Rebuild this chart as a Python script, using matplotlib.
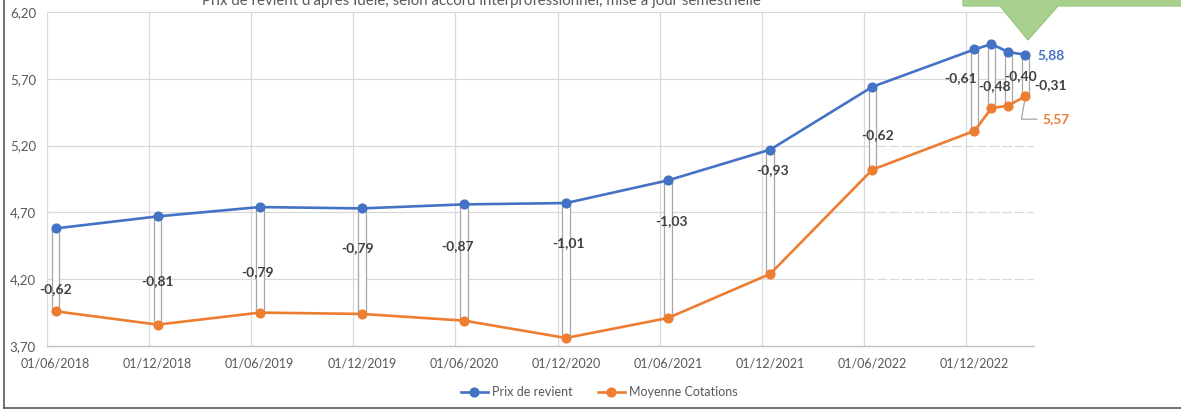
import matplotlib.pyplot as plt
from matplotlib.lines import Line2D
from matplotlib.patches import Polygon

plt.rcParams['font.family'] = ['Lato', 'DejaVu Sans']

# data
dates = ['01/06/2018', '01/12/2018', '01/06/2019', '01/12/2019', '01/06/2020',
         '01/12/2020', '01/06/2021', '01/12/2021', '01/06/2022', '01/12/2022',
         '01/01/2023', '01/02/2023', '01/03/2023']
prix_revient = [4.58, 4.67, 4.74, 4.73, 4.76, 4.77, 4.94, 5.17, 5.64, 5.92, 5.96, 5.90, 5.88]
moyenne_cot = [3.96, 3.86, 3.95, 3.94, 3.89, 3.76, 3.91, 4.24, 5.02, 5.31, 5.48, 5.50, 5.57]
tick_dates = ['01/06/2018', '01/12/2018', '01/06/2019', '01/12/2019', '01/06/2020',
              '01/12/2020', '01/06/2021', '01/12/2021', '01/06/2022', '01/12/2022']
yticks = [3.70, 4.20, 4.70, 5.20, 5.70, 6.20]
title = "Prix de revient d'après Idele, selon accord interprofessionnel, mise à jour semestrielle"

# label offsets (pixels) from point x / bar middle
lab_dx = [0, 0, -2, -4, -6, 2, 3, 2, 5, -14, 3, 12, 25]
lab_dy = [-19, -11, -12, 13, 16, 27, 28, 42, -7, 12, -10, 3, -10]

BLUE = '#4472C4'
ORANGE = '#ED7D31'
GRID = '#D9D9D9'
TXT = '#595959'


def month_idx(d):
    dd, mm, yy = d.split('/')
    return (int(yy) - 2018) * 12 + (int(mm) - 6)


x = [month_idx(d) + 0.5 for d in dates]
ecart = [c - p for p, c in zip(prix_revient, moyenne_cot)]

W, H = 1181, 412
fig = plt.figure(figsize=(W / 100, H / 100), dpi=100)
ax = fig.add_axes([47 / W, 1 - 346 / H, 987 / W, 334 / H])
ax.set_xlim(0, 58)
ax.set_ylim(3.70, 6.20)

# grid
for m in range(0, 55, 6):
    ax.axvline(m, color=GRID, lw=0.9, zorder=0)
for yv in yticks[1:]:
    ax.plot([0, 48], [yv, yv], color=GRID, lw=0.9, zorder=0)
    if yv < 5.5:
        ax.plot([48, 58], [yv, yv], color=GRID, lw=0.9, zorder=0, dashes=(8, 2))
    else:
        ax.plot([48, 58], [yv, yv], color=GRID, lw=0.9, zorder=0)

# up/down bars
ax.bar(x, [p - c for p, c in zip(prix_revient, moyenne_cot)], bottom=moyenne_cot,
       width=0.45, facecolor='white', edgecolor='#A6A6A6', lw=0.9, zorder=2)

ax.plot(x, prix_revient, color=BLUE, lw=1.9, marker='o', ms=6.3, zorder=4,
        label='Prix de revient')
ax.plot(x, moyenne_cot, color=ORANGE, lw=1.9, marker='o', ms=6.3, zorder=4,
        label='Moyenne Cotations')

# difference labels
for xi, p, c, e, dx, dy in zip(x, prix_revient, moyenne_cot, ecart, lab_dx, lab_dy):
    ax.annotate(f'{e:.2f}'.replace('.', ','), xy=(xi, (p + c) / 2),
                xytext=(dx, dy), textcoords='offset pixels', ha='center', va='center',
                fontsize=10, fontweight='bold', color='#404040', zorder=6)

# last value labels
ax.annotate(f'{prix_revient[-1]:.2f}'.replace('.', ','), xy=(x[-1], prix_revient[-1]),
            xytext=(12, 0), textcoords='offset pixels', ha='left', va='center',
            fontsize=10, fontweight='bold', color=BLUE)
ax.annotate(f'{moyenne_cot[-1]:.2f}'.replace('.', ','), xy=(x[-1], moyenne_cot[-1]),
            xytext=(17, -23), textcoords='offset pixels', ha='left', va='center',
            fontsize=10, fontweight='bold', color=ORANGE,
            arrowprops=dict(arrowstyle='-', color='#A6A6A6', lw=0.9,
                            connectionstyle='angle,angleA=0,angleB=80',
                            relpos=(0, 0.5), shrinkA=2, shrinkB=4))

ax.set_yticks(yticks)
ax.set_yticklabels([f'{v:.2f}'.replace('.', ',') for v in yticks])
ax.set_xticks([month_idx(d) + 0.5 for d in tick_dates])
ax.set_xticklabels(tick_dates)
ax.tick_params(axis='both', length=0, labelsize=9, labelcolor=TXT)
ax.tick_params(axis='y', pad=8, labelsize=9.5)
ax.tick_params(axis='x', pad=8)
for s in ['top', 'right', 'left']:
    ax.spines[s].set_visible(False)
ax.spines['bottom'].set_color('#BFBFBF')
ax.spines['bottom'].set_linewidth(1.0)

fig.legend(loc='center', bbox_to_anchor=(599 / W, 1 - 392 / H), ncol=2, frameon=False,
           fontsize=9, labelcolor=TXT, handlelength=2.2, handletextpad=0.3,
           columnspacing=2.0)

fig.text(481 / W, 1 - 1 / H, title, ha='center', va='center', fontsize=10.8, color=TXT)

# green callout shape (top right, cut off)
pts = [(963, -10), (963, 6), (1000, 6), (1028, 40), (1058, 6), (1195, 6), (1195, -10)]
fig.add_artist(Polygon([(px / W, 1 - py / H) for px, py in pts], closed=True,
                       transform=fig.transFigure, facecolor='#A9D18E',
                       edgecolor='#93C47D', lw=0.8))

# chart border
fig.add_artist(Line2D([3.5 / W, 3.5 / W], [1, 1 - 407.5 / H], color='#595959', lw=1.2,
                      transform=fig.transFigure))
fig.add_artist(Line2D([3.5 / W, 1], [1 - 407.5 / H, 1 - 407.5 / H], color='#595959',
                      lw=1.2, transform=fig.transFigure))

fig.savefig('out.png', dpi=100)
